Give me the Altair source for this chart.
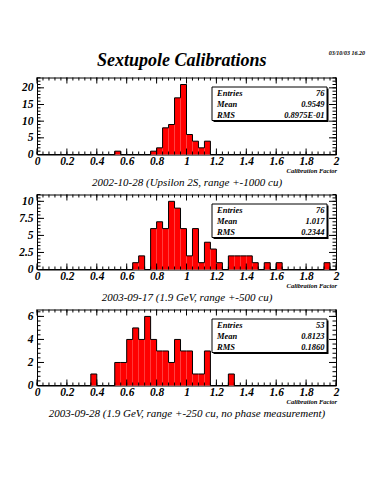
import altair as alt
import pandas as pd

# ---------------- data ----------------
BIN_W = 0.04
bin_start = [round(i * BIN_W, 2) for i in range(50)]
bin_end = [round((i + 1) * BIN_W, 2) for i in range(50)]

counts1 = [0, 0, 0, 0, 0, 0, 0, 0, 0, 0,
           0, 0, 0, 1, 0, 0, 0, 0, 0, 1,
           2, 8, 9, 17, 21, 6, 4, 2, 4, 0,
           0, 0, 0, 0, 0, 0, 0, 0, 0, 0,
           0, 0, 0, 0, 0, 0, 0, 0, 0, 0]
counts2 = [0, 0, 0, 0, 0, 0, 0, 0, 0, 0,
           0, 0, 0, 0, 0, 0, 1, 2, 0, 6,
           7, 6, 10, 9, 6, 2, 6, 1, 4, 3,
           1, 0, 2, 2, 2, 2, 1, 0, 1, 0,
           1, 0, 0, 0, 0, 0, 0, 0, 1, 0]
counts3 = [0, 0, 0, 0, 0, 0, 0, 0, 0, 1,
           0, 0, 0, 2, 2, 4, 5, 4, 6, 4,
           3, 3, 2, 4, 3, 3, 1, 1, 3, 0,
           0, 0, 1, 0, 0, 0, 0, 0, 0, 0,
           0, 0, 0, 0, 0, 0, 0, 0, 0, 0]

subtitles = ["2002-10-28 (Upsilon 2S, range +-1000 cu)",
             "2003-09-17 (1.9 GeV, range +-500 cu)",
             "2003-09-28 (1.9 GeV, range +-250 cu, no phase measurement)"]
stat_labels = ["Entries", "Mean", "RMS"]
stat_values = [["76", "0.9549", "0.8975E-01"],
               ["76", "1.017", "0.2344"],
               ["53", "0.8123", "0.1860"]]
y_max = [23.1, 11.0, 6.6]
y_major = [[0, 5, 10, 15, 20], [0, 2.5, 5, 7.5, 10], [0, 2, 4, 6]]
y_minor_step = [1.0, 0.5, 0.4]
x_major = [round(i * 0.2, 2) for i in range(11)]
x_minor = [round(i * 0.04, 2) for i in range(51)]
x_title = "Calibration Factor"
main_title = "Sextupole Calibrations"
date_text = "03/10/03  16.20"

# ---------------- style ----------------
FONT = "Liberation Serif"
W = 299
HEIGHTS = [77, 75, 76]
RED = "#ff0000"


def txt(**kw):
    base = dict(font=FONT, fontStyle="italic", fontWeight="bold", color="black")
    base.update(kw)
    return base


def panel(k):
    counts = [counts1, counts2, counts3][k]
    h = HEIGHTS[k]
    xs = alt.Scale(domain=[0, 2], nice=False, zero=False)
    ys = alt.Scale(domain=[0, y_max[k]], nice=False)
    x_axis = alt.Axis(values=x_major, labelExpr="'' + datum.value", title=subtitles[k],
                      labelFont=FONT, labelFontStyle="italic", labelFontWeight="bold",
                      labelFontSize=11.5, labelPadding=0.5, labelColor="black",
                      titleFont=FONT, titleFontStyle="italic", titleFontWeight="normal",
                      titleFontSize=11, titleColor="black", titleY=27.5,
                      titleBaseline="middle", labelFlush=False)
    y_axis = alt.Axis(values=y_major[k], labelExpr="'' + datum.value", title=None,
                      labelFont=FONT, labelFontStyle="italic", labelFontWeight="bold",
                      labelFontSize=11.5, labelPadding=4, labelColor="black",
                      labelFlush=False)

    def X(f):
        return alt.X(f, scale=xs, axis=x_axis)

    def Y(f):
        return alt.Y(f, scale=ys, axis=y_axis)

    df = pd.DataFrame({"x0": bin_start, "x1": bin_end, "n": counts})
    step_df = pd.DataFrame({"x0": bin_start + [2.0], "n": counts + [counts[-1]]})

    bars = alt.Chart(df).mark_rect(color=RED, strokeWidth=0).encode(
        x=X("x0:Q"), x2="x1:Q", y=Y("n:Q"), y2=alt.datum(0))
    outline = alt.Chart(step_df).mark_line(interpolate="step-after", color="black",
                                           strokeWidth=1).encode(
        x=X("x0:Q"), y=Y("n:Q"))

    layers = [bars, outline]

    # inward ticks on all four sides
    xmaj = pd.DataFrame({"x0": x_major})
    xmin = pd.DataFrame({"x0": x_minor})
    for d, ln in ((xmaj, 6), (xmin, 3)):
        layers.append(alt.Chart(d).mark_rule(color="black", strokeWidth=1).encode(
            x=X("x0:Q"), y=alt.value(h), y2=alt.value(h - ln)))
        layers.append(alt.Chart(d).mark_rule(color="black", strokeWidth=1).encode(
            x=X("x0:Q"), y=alt.value(0), y2=alt.value(ln)))
    step = y_minor_step[k]
    ymin_vals = [round(i * step, 2) for i in range(int(y_max[k] / step) + 1)]
    ymaj = pd.DataFrame({"n": y_major[k]})
    ymin = pd.DataFrame({"n": ymin_vals})
    for d, ln in ((ymaj, 7), (ymin, 3.5)):
        layers.append(alt.Chart(d).mark_rule(color="black", strokeWidth=1).encode(
            y=Y("n:Q"), x=alt.value(0), x2=alt.value(ln)))
        layers.append(alt.Chart(d).mark_rule(color="black", strokeWidth=1).encode(
            y=Y("n:Q"), x=alt.value(W), x2=alt.value(W - ln)))

    # statistics box
    one = pd.DataFrame({"a": [0]})
    bx0, bx1, by0, by1 = 175, 290, 9.5, 43
    layers.append(alt.Chart(one).mark_rect(color="black").encode(
        x=alt.value(bx0 + 1.5), x2=alt.value(bx1 + 1.5), y=alt.value(by0 + 1.5), y2=alt.value(by1 + 1.5)))
    layers.append(alt.Chart(one).mark_rect(fill="white", stroke="black", strokeWidth=1).encode(
        x=alt.value(bx0), x2=alt.value(bx1), y=alt.value(by0), y2=alt.value(by1)))
    rows_y = [15.3, 26.5, 37.0]
    for i in range(3):
        sd = pd.DataFrame({"label": [stat_labels[i]], "value": [stat_values[k][i]]})
        layers.append(alt.Chart(sd).mark_text(align="left", baseline="middle",
                                              **txt(fontSize=8.5)).encode(
            text="label:N", x=alt.value(bx0 + 5), y=alt.value(rows_y[i])))
        layers.append(alt.Chart(sd).mark_text(align="right", baseline="middle",
                                              **txt(fontSize=8.5)).encode(
            text="value:N", x=alt.value(bx1 - 2.5), y=alt.value(rows_y[i])))

    # axis title at the right end
    layers.append(alt.Chart(pd.DataFrame({"s": [x_title]})).mark_text(
        align="right", baseline="middle", **txt(fontSize=6.5)).encode(
        text="s:N", x=alt.value(W + 1), y=alt.value(h + 16.5)))

    if k == 0:
        layers.append(alt.Chart(pd.DataFrame({"s": [date_text]})).mark_text(
            align="right", baseline="middle", **txt(fontSize=6)).encode(
            text="s:N", x=alt.value(W + 29), y=alt.value(-25)))

    return alt.layer(*layers).properties(width=W, height=h)


chart = alt.vconcat(panel(0), panel(1), panel(2), spacing=40, bounds="flush").properties(
    title=alt.TitleParams(main_title, font=FONT, fontSize=18, fontWeight="bold",
                          fontStyle="italic", color="black", anchor="middle", offset=-20.5, dx=-10),
    padding={"left": 10, "top": 40.5, "right": 0, "bottom": 5},
    background="white",
).configure_view(stroke="black", strokeWidth=1).configure_axis(
    grid=False, domain=False, ticks=False)

chart.save("out.html", embed_options={"renderer": "svg", "actions": False})
